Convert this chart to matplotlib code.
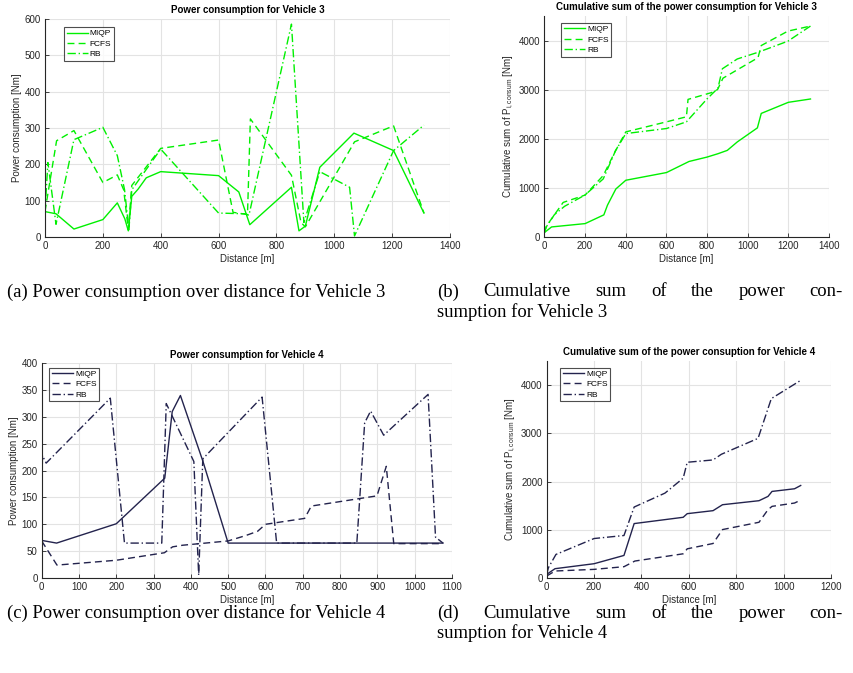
import numpy as np
import matplotlib
matplotlib.use('Agg')
import matplotlib.pyplot as plt

plt.rcParams['font.family'] = ['Liberation Sans', 'DejaVu Sans']
plt.rcParams['mathtext.default'] = 'regular'

# Vehicle 3 power consumption
v3_miqp_x = [0, 38, 100, 200, 250, 276, 288, 300, 322, 350, 400, 600, 670, 708, 852, 878, 900, 950, 1068, 1205, 1310]
v3_miqp_y = [70, 64, 22, 48, 94, 50, 17, 112, 132, 163, 180, 169, 124, 34, 137, 17, 30, 192, 286, 238, 66]
v3_fcfs_x = [0, 5, 40, 100, 200, 250, 272, 288, 300, 400, 600, 650, 700, 710, 852, 885, 900, 1070, 1205, 1310]
v3_fcfs_y = [70, 95, 265, 293, 150, 171, 130, 20, 142, 244, 267, 68, 62, 325, 170, 40, 28, 262, 306, 66]
v3_rb_x = [0, 10, 38, 100, 200, 250, 275, 290, 300, 400, 600, 690, 705, 852, 895, 950, 1053, 1070, 1205, 1310]
v3_rb_y = [70, 205, 35, 268, 302, 224, 130, 20, 130, 242, 66, 64, 60, 586, 40, 180, 137, 3, 238, 308]

# Vehicle 3 cumulative sum
c3_miqp_x = [0, 36, 201, 293, 311, 352, 401, 601, 712, 800, 854, 900, 949, 1048, 1067, 1200, 1309]
c3_miqp_y = [82, 199, 267, 445, 644, 973, 1151, 1308, 1534, 1623, 1692, 1760, 1932, 2219, 2514, 2740, 2808]
c3_fcfs_x = [0, 11, 93, 201, 290, 347, 401, 601, 699, 707, 822, 852, 879, 1051, 1067, 1198, 1309]
c3_fcfs_y = [80, 219, 699, 849, 1247, 1726, 2137, 2342, 2445, 2800, 2938, 3000, 3233, 3650, 3898, 4192, 4295]
c3_rb_x = [0, 10, 50, 100, 200, 290, 350, 401, 601, 699, 800, 854, 876, 949, 1051, 1198, 1309]
c3_rb_y = [80, 200, 450, 620, 849, 1178, 1750, 2103, 2206, 2342, 2808, 3028, 3425, 3624, 3760, 3987, 4295]

# Vehicle 4 power consumption
v4_miqp_x = [0, 40, 200, 330, 350, 372, 432, 500, 1076]
v4_miqp_y = [70, 65, 101, 186, 310, 340, 218, 65, 65]
v4_fcfs_x = [0, 41, 200, 329, 351, 378, 500, 547, 579, 600, 705, 723, 862, 899, 924, 944, 1076]
v4_fcfs_y = [69, 24, 33, 47, 58, 61, 69, 79, 87, 100, 111, 134, 149, 153, 208, 64, 64]
v4_rb_x = [0, 2, 12, 184, 222, 322, 334, 408, 421, 432, 591, 630, 845, 866, 882, 917, 1036, 1056, 1076]
v4_rb_y = [70, 228, 214, 335, 65, 65, 325, 217, 5, 222, 337, 65, 65, 289, 311, 266, 342, 76, 65]

# Vehicle 4 cumulative sum
c4_miqp_x = [0, 35, 200, 326, 369, 576, 593, 702, 742, 896, 934, 951, 1046, 1072]
c4_miqp_y = [82, 199, 302, 473, 1132, 1262, 1337, 1399, 1522, 1605, 1694, 1797, 1852, 1920]
c4_fcfs_x = [0, 35, 200, 326, 372, 576, 593, 702, 742, 896, 934, 951, 1046, 1072]
c4_fcfs_y = [48, 151, 185, 240, 357, 507, 610, 720, 1008, 1159, 1420, 1488, 1557, 1618]
c4_rb_x = [0, 7, 39, 200, 326, 369, 499, 576, 593, 702, 737, 892, 948, 1072]
c4_rb_y = [82, 219, 494, 823, 885, 1474, 1762, 2071, 2400, 2448, 2565, 2894, 3717, 4094]

labels = ['MIQP', 'FCFS', 'RB']
styles = ['-', (0, (5, 3)), (0, (6, 2, 1, 2))]
green = '#00f000'
navy = '#23234d'
axc = '#262626'

W, H = 854, 673
fig = plt.figure(figsize=(W / 100, H / 100), dpi=100)


def make_ax(rect, xs, ys, color, xlim, ylim, xticks, yticks, title, ylabel, leg_pos):
    ax = fig.add_axes(rect)
    for x, y, ls, lab in zip(xs, ys, styles, labels):
        ax.plot(x, y, color=color, linestyle=ls, lw=1.0, label=lab)
    ax.set_xlim(xlim)
    ax.set_ylim(ylim)
    ax.set_xticks(xticks)
    ax.set_yticks(yticks)
    ax.grid(True, color='#e3e3e3', lw=0.8)
    ax.set_axisbelow(True)
    for s in ['top', 'right']:
        ax.spines[s].set_visible(False)
    for s in ['left', 'bottom']:
        ax.spines[s].set_color(axc)
        ax.spines[s].set_linewidth(0.8)
    ax.tick_params(direction='in', length=3, width=0.6, color=axc, labelcolor=axc, labelsize=7, pad=3)
    ax.set_title(title, fontsize=7, fontweight='bold', pad=4)
    ax.set_xlabel('Distance [m]', fontsize=7, color=axc, labelpad=2)
    ax.set_ylabel(ylabel, fontsize=7, color=axc, labelpad=2)
    leg = ax.legend(loc='upper left', bbox_to_anchor=leg_pos, fontsize=6, frameon=True, fancybox=False,
                    edgecolor='#222222', handlelength=2.6, handletextpad=0.2, labelspacing=0.3,
                    borderpad=0.3, borderaxespad=0)
    leg.get_frame().set_linewidth(0.8)
    return ax


cum_label = 'Cumulative sum of P$_{i,consum}$ [Nm]'

make_ax([0.0527, 0.6478, 0.4742, 0.3239],
        [v3_miqp_x, v3_fcfs_x, v3_rb_x], [v3_miqp_y, v3_fcfs_y, v3_rb_y], green,
        (0, 1400), (0, 600), range(0, 1401, 200), range(0, 601, 100),
        'Power consumption for Vehicle 3', 'Power consumption [Nm]', (0.047, 0.963))

make_ax([0.6373, 0.6483, 0.3334, 0.3279],
        [c3_miqp_x, c3_fcfs_x, c3_rb_x], [c3_miqp_y, c3_fcfs_y, c3_rb_y], green,
        (0, 1400), (0, 4500), range(0, 1401, 200), range(0, 4001, 1000),
        'Cumulative sum of the power consumption for Vehicle 3', cum_label, (0.059, 0.968))

make_ax([0.0488, 0.1412, 0.4804, 0.3190],
        [v4_miqp_x, v4_fcfs_x, v4_rb_x], [v4_miqp_y, v4_fcfs_y, v4_rb_y], navy,
        (0, 1100), (0, 400), range(0, 1101, 100), range(0, 401, 50),
        'Power consumption for Vehicle 4', 'Power consumption [Nm]', (0.0185, 0.98))

make_ax([0.6402, 0.1407, 0.3329, 0.3233],
        [c4_miqp_x, c4_fcfs_x, c4_rb_x], [c4_miqp_y, c4_fcfs_y, c4_rb_y], navy,
        (0, 1200), (0, 4500), range(0, 1201, 200), range(0, 4001, 1000),
        'Cumulative sum of the power consuption for Vehicle 4', cum_label, (0.047, 0.968))

# captions
cap_kw = dict(fontsize=13.4, family=['Liberation Serif', 'DejaVu Serif'], va='center', color='black')
renderer = fig.canvas.get_renderer()


def justified(text, x0, x1, y):
    words = text.split()
    objs = [fig.text(0, 1 - y / H, w, **cap_kw) for w in words]
    widths = [o.get_window_extent(renderer).width for o in objs]
    gap = ((x1 - x0) - sum(widths)) / (len(words) - 1)
    x = x0
    for o, w in zip(objs, widths):
        o.set_x(x / W)
        x += w + gap


fig.text(7 / W, 1 - 292 / H, '(a) Power consumption over distance for Vehicle 3', **cap_kw)
justified('(b) Cumulative sum of the power con-', 437, 843, 292)
fig.text(437 / W, 1 - 312 / H, 'sumption for Vehicle 3', **cap_kw)
fig.text(7 / W, 1 - 613 / H, '(c) Power consumption over distance for Vehicle 4', **cap_kw)
justified('(d) Cumulative sum of the power con-', 437, 843, 613)
fig.text(437 / W, 1 - 633 / H, 'sumption for Vehicle 4', **cap_kw)

fig.savefig('out.png', dpi=100)
